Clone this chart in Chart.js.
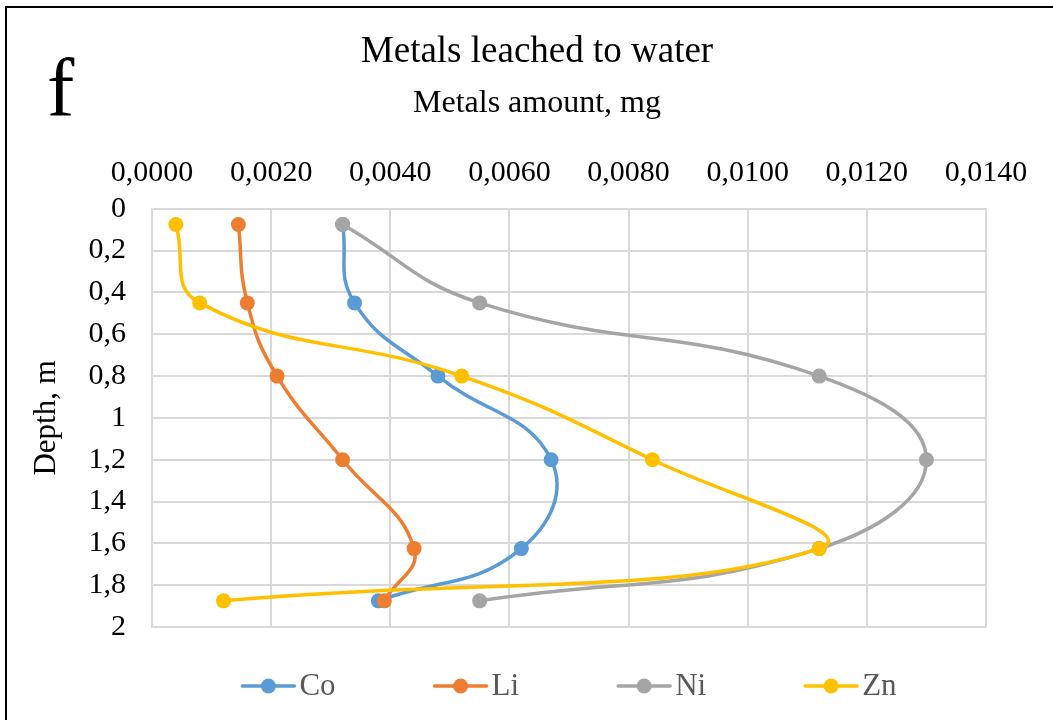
<!DOCTYPE html>
<html>
<head>
<meta charset="utf-8">
<script src="https://cdn.jsdelivr.net/npm/chart.js@4.4.1/dist/chart.umd.min.js"></script>
<style>
  html, body { margin: 0; background: #fff; }
  #wrap { width: 1053px; height: 720px; }
</style>
</head>
<body>
<div id="wrap"><canvas id="leachChart"></canvas></div>
<script>
// depth of each sample, m
const depths = [0.075, 0.45, 0.8, 1.2, 1.625, 1.875];
// metals amount, mg
const coValues = [0.0032, 0.0034, 0.0048, 0.0067, 0.0062, 0.0038];
const liValues = [0.00145, 0.0016, 0.0021, 0.0032, 0.0044, 0.0039];
const niValues = [0.0032, 0.0055, 0.0112, 0.0130, 0.0112, 0.0055];
const znValues = [0.0004, 0.0008, 0.0052, 0.0084, 0.0112, 0.0012];
const seriesNames = ['Co', 'Li', 'Ni', 'Zn'];
const seriesColors = ['#5B9BD5', '#ED7D31', '#A5A5A5', '#FFC000'];
const serif = "'Liberation Serif', 'Times New Roman', serif";

function toPoints(values) {
    return values.map((v, i) => ({ x: v, y: depths[i] }));
}

function makeDataset(name, values, color, order) {
    return {
        label: name,
        data: toPoints(values),
        showLine: true,
        borderColor: color,
        backgroundColor: color,
        borderWidth: 3.5,
        pointRadius: 7.5,
        pointHoverRadius: 7.5,
        pointBorderWidth: 0,
        tension: 0.45,
        order: order
    };
}

// border of the figure + the panel letter
const figureFrame = {
    id: 'figureFrame',
    afterDraw(chart) {
        const ctx = chart.ctx;
        ctx.save();
        ctx.strokeStyle = '#000';
        ctx.lineWidth = 2;
        ctx.beginPath();
        ctx.moveTo(6, chart.height);
        ctx.lineTo(6, 7);
        ctx.lineTo(chart.width, 7);
        ctx.stroke();
        ctx.fillStyle = '#000';
        ctx.font = '82px ' + serif;
        ctx.textBaseline = 'alphabetic';
        ctx.fillText('f', 47, 116);
        ctx.restore();
    }
};

// legend row like Excel: line with dot, label next to it
const legendRow = {
    id: 'legendRow',
    afterDraw(chart) {
        const { ctx, chartArea } = chart;
        const markW = 54, gap = 4, space = 98;
        ctx.save();
        ctx.font = '31px ' + serif;
        const items = chart.data.datasets.map(ds => ({
            ds: ds,
            w: markW + gap + ctx.measureText(ds.label).width
        }));
        const total = items.reduce((s, it) => s + it.w, 0) + space * (items.length - 1);
        let x = (chartArea.left + chartArea.right) / 2 - total / 2;
        const y = chartArea.bottom + 59;
        items.forEach(it => {
            ctx.strokeStyle = it.ds.borderColor;
            ctx.lineWidth = 3.5;
            ctx.lineCap = 'round';
            ctx.beginPath();
            ctx.moveTo(x + 1, y);
            ctx.lineTo(x + markW - 1, y);
            ctx.stroke();
            ctx.fillStyle = it.ds.borderColor;
            ctx.beginPath();
            ctx.arc(x + markW / 2, y, 7.5, 0, Math.PI * 2);
            ctx.fill();
            ctx.fillStyle = '#595959';
            ctx.textBaseline = 'middle';
            ctx.fillText(it.ds.label, x + markW + gap, y + 1);
            x += it.w + space;
        });
        ctx.restore();
    }
};

new Chart(document.getElementById('leachChart'), {
    type: 'scatter',
    data: {
        datasets: [
            makeDataset(seriesNames[0], coValues, seriesColors[0], 4),
            makeDataset(seriesNames[1], liValues, seriesColors[1], 3),
            makeDataset(seriesNames[2], niValues, seriesColors[2], 2),
            makeDataset(seriesNames[3], znValues, seriesColors[3], 1)
        ]
    },
    options: {
        responsive: true,
        maintainAspectRatio: false,
        animation: false,
        layout: { padding: { top: 8, left: 88, right: 67, bottom: 93 } },
        plugins: {
            legend: { display: false },
            tooltip: { enabled: false },
            title: {
                display: true,
                text: 'Metals leached to water',
                color: '#000',
                font: { family: serif, size: 37, weight: 'normal' },
                padding: { top: 22, bottom: 10 }
            },
            subtitle: {
                display: true,
                text: 'Metals amount, mg',
                color: '#000',
                font: { family: serif, size: 32, weight: 'normal' },
                padding: { top: 0, bottom: 14 }
            }
        },
        scales: {
            x: {
                type: 'linear',
                position: 'top',
                min: 0,
                max: 0.014,
                grid: { color: '#D9D9D9', lineWidth: 2, drawTicks: false },
                border: { color: '#D9D9D9', width: 2 },
                ticks: {
                    stepSize: 0.002,
                    padding: 18,
                    color: '#000',
                    font: { family: serif, size: 30 },
                    callback: v => v.toFixed(4).replace('.', ',')
                }
            },
            y: {
                type: 'linear',
                reverse: true,
                min: 0,
                max: 2,
                grid: { color: '#D9D9D9', lineWidth: 2, drawTicks: false },
                border: { color: '#D9D9D9', width: 2 },
                ticks: {
                    stepSize: 0.2,
                    padding: 26,
                    color: '#000',
                    font: { family: serif, size: 30 },
                    callback: v => String(Math.round(v * 10) / 10).replace('.', ',')
                },
                title: {
                    display: true,
                    text: 'Depth, m',
                    color: '#000',
                    font: { family: serif, size: 31 },
                    padding: { top: -60, bottom: 0 }
                },
                afterFit(scale) {
                    scale.width = 64;
                }
            }
        }
    },
    plugins: [figureFrame, legendRow]
});
</script>
</body>
</html>
